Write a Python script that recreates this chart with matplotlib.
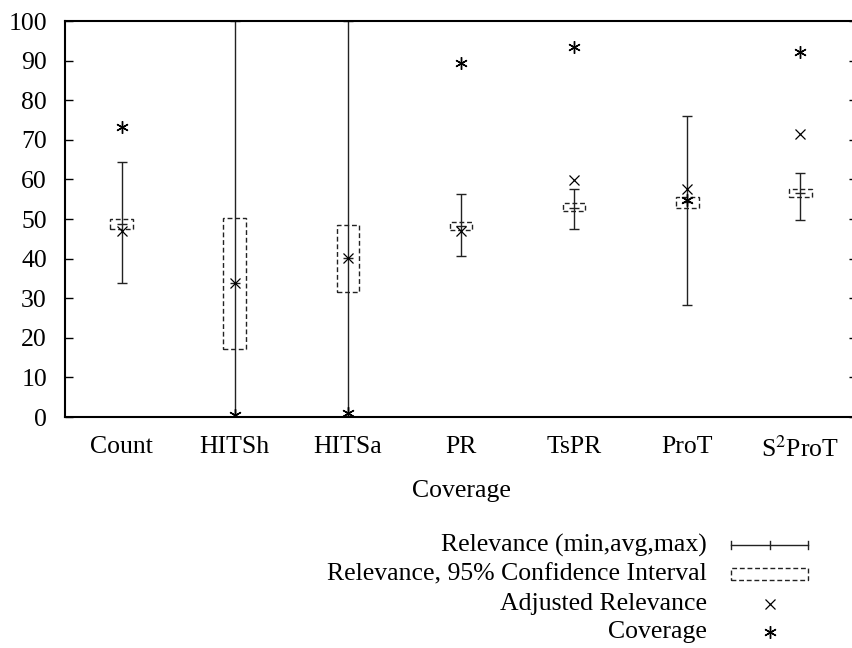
#!/usr/bin/env python3
import matplotlib
matplotlib.use('Agg')
from matplotlib.pyplot import figure
from matplotlib.patches import Rectangle
from matplotlib.lines import Line2D
from matplotlib.ticker import MultipleLocator

#%% data
methods = ['Count', 'HITSh', 'HITSa', 'PR', 'TsPR', 'ProT', r'S$^2$ProT']
rel_min = [33.8, 0.0, 0.0, 40.6, 47.6, 28.3, 49.7]
rel_avg = [48.7, 33.8, 40.1, 48.2, 52.9, 54.4, 56.6]
rel_max = [64.3, 100.0, 100.0, 56.3, 57.5, 75.9, 61.7]
ci_low = [47.4, 17.1, 31.5, 47.2, 51.9, 52.7, 55.5]
ci_high = [49.9, 50.3, 48.5, 49.3, 54.0, 55.5, 57.7]
adjusted = [47.0, 33.8, 40.1, 47.0, 59.8, 57.6, 71.4]
coverage = [73.3, 0.5, 0.9, 89.5, 93.5, 54.8, 92.1]

legend_labels = ['Relevance (min,avg,max)', 'Relevance, 95% Confidence Interval',
                 'Adjusted Relevance', 'Coverage']

font = ['Liberation Serif', 'DejaVu Serif']
matplotlib.rcParams['font.family'] = font
matplotlib.rcParams['mathtext.fontset'] = 'stix'
fs = 18.5
star = (6, 2, 0)  # gnuplot-like asterisk
dash = (0, (3.5, 2))

fg = figure(figsize=(8.52, 6.48), dpi=100)
W, H = 852., 648.
ax = fg.add_axes([65/W, 1-417/H, 792/W, 396/H])

x = list(range(1, len(methods)+1))
lo = [a-m for a, m in zip(rel_avg, rel_min)]
hi = [M-a for a, M in zip(rel_avg, rel_max)]
ax.errorbar(x, rel_avg, yerr=[lo, hi], fmt='none', ecolor='#222222',
            elinewidth=1, capsize=3.5, capthick=1, zorder=2)
ax.plot(x, rel_avg, ls='none', marker='_', ms=7, mew=1, color='#222222', zorder=3)

bw = 0.2
for xi, l, h in zip(x, ci_low, ci_high):
    ax.add_patch(Rectangle((xi-bw/2, l), bw, h-l, fill=False, ls=dash,
                           lw=1, edgecolor='#222222', zorder=2))

ax.plot(x, adjusted, ls='none', marker='x', ms=7, mew=0.9, color='black', zorder=4)
ax.plot(x, coverage, ls='none', marker=star, ms=9, mew=1, color='black', zorder=4)

ax.set_xlim(0.5, 7.5)
ax.set_ylim(0, 100)
ax.set_xticks(x)
ax.set_xticklabels(methods, fontsize=fs)
ax.yaxis.set_major_locator(MultipleLocator(10))
ax.tick_params(axis='y', direction='in', length=6, width=1, left=True, right=True,
               labelsize=fs, pad=13)
ax.tick_params(axis='x', length=0, pad=14)
for s in ax.spines.values():
    s.set_linewidth(1.5)
ax.set_xlabel('Coverage', fontsize=fs, labelpad=13)

#%% legend drawn gnuplot-style: text on the left, sample on the right
rows = [545, 574, 604, 632]
tx, s0, s1 = 707, 731, 808
sm = (s0+s1)/2
for lab, yr in zip(legend_labels, rows):
    fg.text(tx/W, 1-yr/H, lab, ha='right', va='center', fontsize=fs)
y0 = 1-rows[0]/H
fg.add_artist(Line2D([s0/W, s1/W], [y0, y0], color='#222222', lw=1))
for xx in (s0, sm, s1):
    fg.add_artist(Line2D([xx/W, xx/W], [y0-4/H, y0+4/H], color='#222222', lw=1))
y1 = 1-rows[1]/H
fg.add_artist(Rectangle((s0/W, y1-6/H), (s1-s0)/W, 12/H, fill=False, ls=dash,
                        lw=1, edgecolor='#222222', transform=fg.transFigure))
fg.add_artist(Line2D([sm/W], [1-rows[2]/H], ls='none', marker='x', ms=7, mew=0.9, color='black'))
fg.add_artist(Line2D([sm/W], [1-rows[3]/H], ls='none', marker=star, ms=9, mew=1, color='black'))

fg.savefig('out.png', dpi=100)
